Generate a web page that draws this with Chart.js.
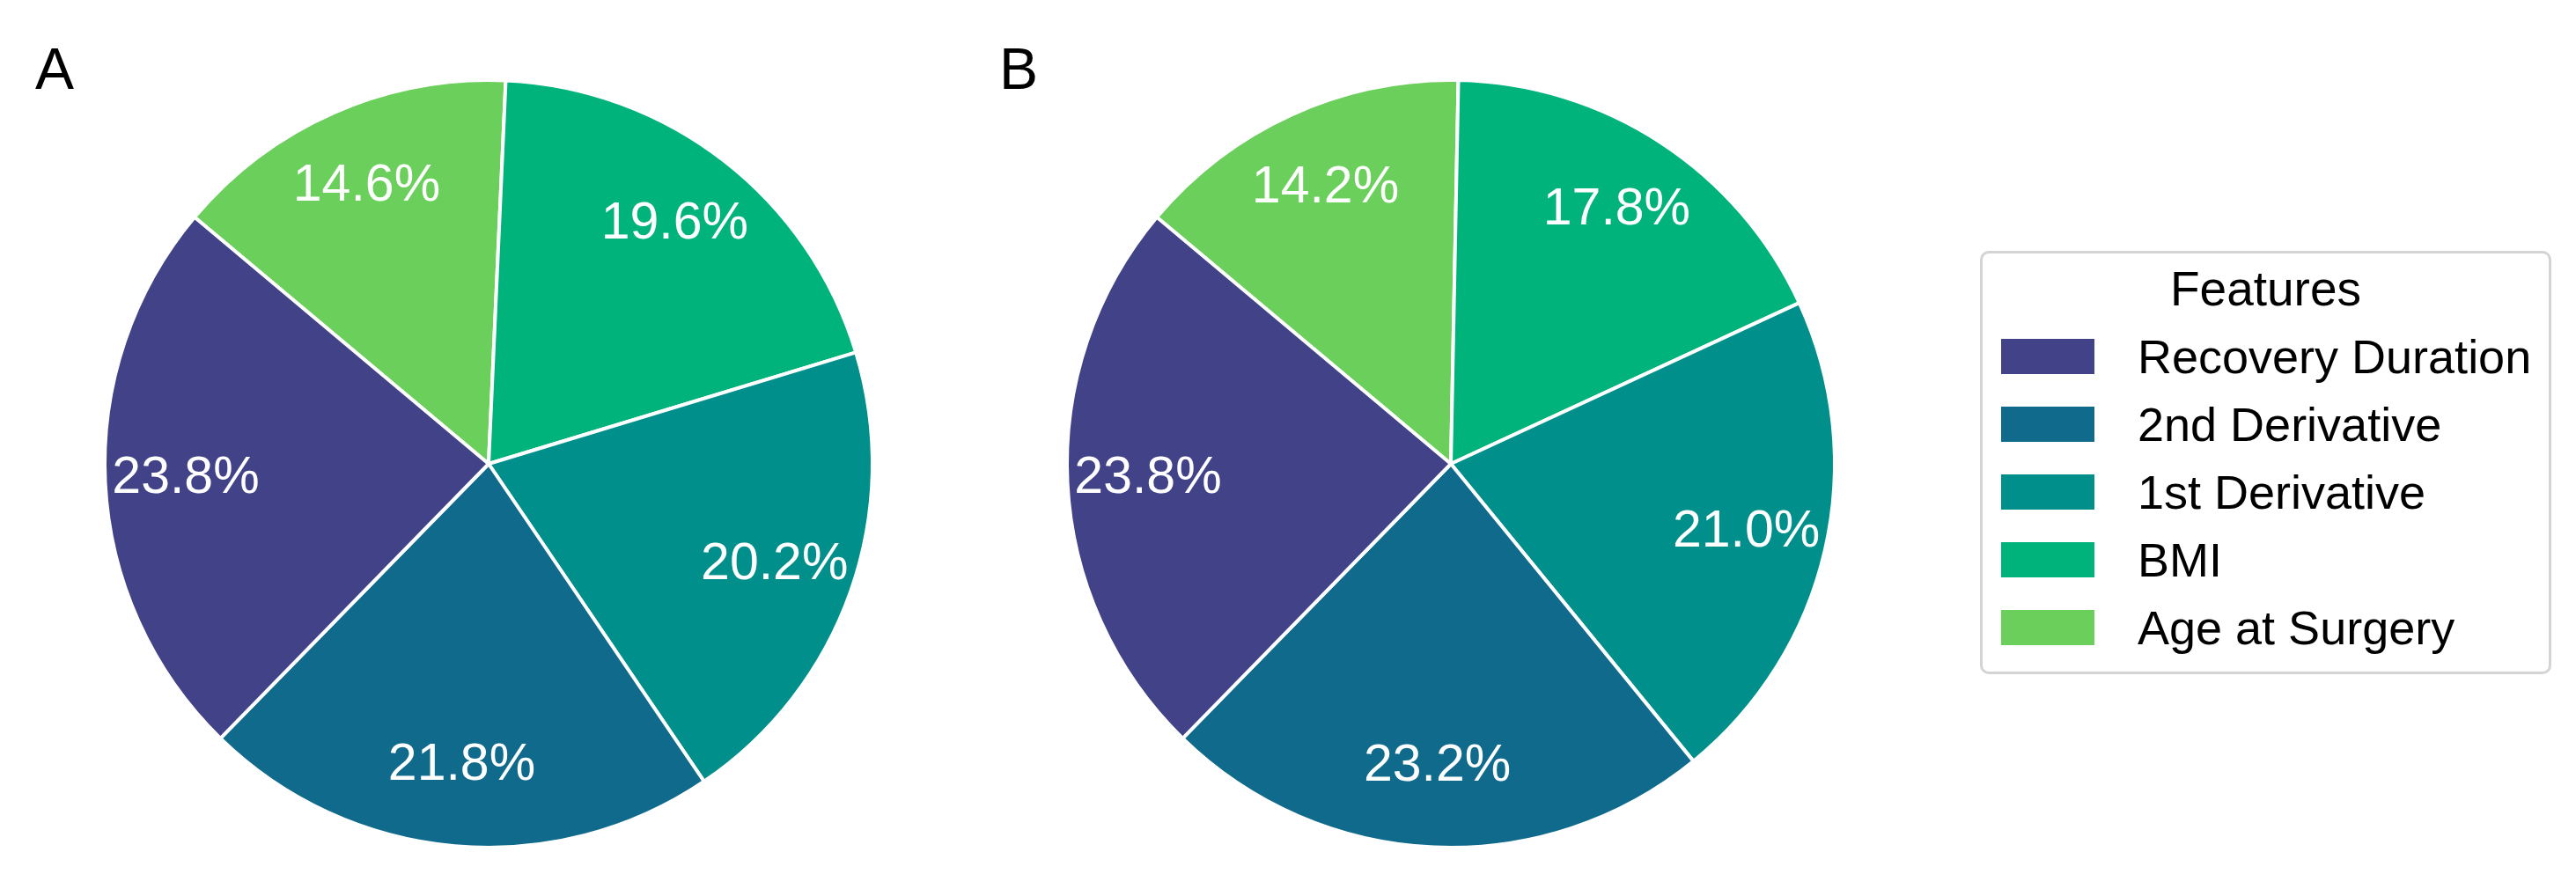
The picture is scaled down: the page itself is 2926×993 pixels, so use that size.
<!DOCTYPE html>
<html>
<head>
<meta charset="utf-8">
<script src="https://cdn.jsdelivr.net/npm/chart.js@4.4.0/dist/chart.umd.min.js"></script>
<style>
  body { margin: 0; background: #fff; width: 2926px; height: 993px; overflow: hidden; position: relative;
         font-family: "Liberation Sans", Arial, Helvetica, sans-serif; }
  .panel { position: absolute; font-size: 66px; line-height: 1; color: #000; }
  .wrap { position: absolute; width: 900px; height: 900px; }
  #legend { position: absolute; left: 2249px; top: 285px; width: 649px; height: 481px;
            border: 3px solid #d4d4d4; border-radius: 10px; box-sizing: border-box; }
  #legend .title { position: absolute; left: 0; right: 0; top: 12px; text-align: center; font-size: 55px; line-height: 56px; }
  #legend .item { position: absolute; left: 21px; height: 56px; display: flex; align-items: center; font-size: 54px; white-space: nowrap; }
  #legend .swatch { width: 106px; height: 40px; margin-right: 49px; }
</style>
</head>
<body>
<div class="panel" style="left:40px; top:45px;">A</div>
<div class="panel" style="left:1135px; top:45px;">B</div>
<div class="wrap" style="left:105px; top:77px;"><canvas id="pieA" width="900" height="900"></canvas></div>
<div class="wrap" style="left:1198px; top:77px;"><canvas id="pieB" width="900" height="900"></canvas></div>
<div id="legend"></div>

<script>
// data, legend order
const features = ['Recovery Duration', '2nd Derivative', '1st Derivative', 'BMI', 'Age at Surgery'];
const featureColors = ['#414287', '#106a8b', '#008f8a', '#00b37b', '#6bcf5b'];
const sharesA = [23.8, 21.8, 20.2, 19.6, 14.6];
const sharesB = [23.8, 23.2, 21.0, 17.8, 14.2];
const startAngle = 140; // degrees, counter-clockwise from 3 o'clock

// pct labels inside the wedges
const pctLabels = {
  id: 'pctLabels',
  afterDatasetsDraw(chart) {
    const ctx = chart.ctx;
    const meta = chart.getDatasetMeta(0);
    const values = chart.data.datasets[0].data;
    ctx.save();
    ctx.fillStyle = '#ffffff';
    ctx.font = '59px "Liberation Sans", Arial, sans-serif';
    ctx.textAlign = 'center';
    ctx.textBaseline = 'middle';
    meta.data.forEach((arc, i) => {
      const p = arc.getProps(['x', 'y', 'startAngle', 'endAngle', 'outerRadius'], true);
      const mid = (p.startAngle + p.endAngle) / 2;
      const r = p.outerRadius * 0.79;
      ctx.fillText(values[i].toFixed(1) + '%', p.x + Math.cos(mid) * r, p.y + Math.sin(mid) * r);
    });
    ctx.restore();
  }
};

function makePie(id, shares) {
  // chart.js goes clockwise, so reverse to keep the counter-clockwise order
  const ctx = document.getElementById(id).getContext('2d');
  return new Chart(ctx, {
    type: 'pie',
    data: {
      labels: features.slice().reverse(),
      datasets: [{
        data: shares.slice().reverse(),
        backgroundColor: featureColors.slice().reverse(),
        borderColor: '#ffffff',
        borderWidth: 4
      }]
    },
    options: {
      responsive: false,
      devicePixelRatio: 1,
      animation: false,
      rotation: 90 - startAngle,
      layout: { padding: 12 },
      plugins: {
        legend: { display: false },
        tooltip: { enabled: false }
      }
    },
    plugins: [pctLabels]
  });
}

makePie('pieA', sharesA);
makePie('pieB', sharesB);

// shared legend
const legend = document.getElementById('legend');
const title = document.createElement('div');
title.className = 'title';
title.textContent = 'Features';
legend.appendChild(title);
features.forEach((name, i) => {
  const item = document.createElement('div');
  item.className = 'item';
  item.style.top = (89 + 77 * i) + 'px';
  const sw = document.createElement('div');
  sw.className = 'swatch';
  sw.style.background = featureColors[i];
  const txt = document.createElement('span');
  txt.textContent = name;
  item.appendChild(sw);
  item.appendChild(txt);
  legend.appendChild(item);
});
</script>
</body>
</html>
